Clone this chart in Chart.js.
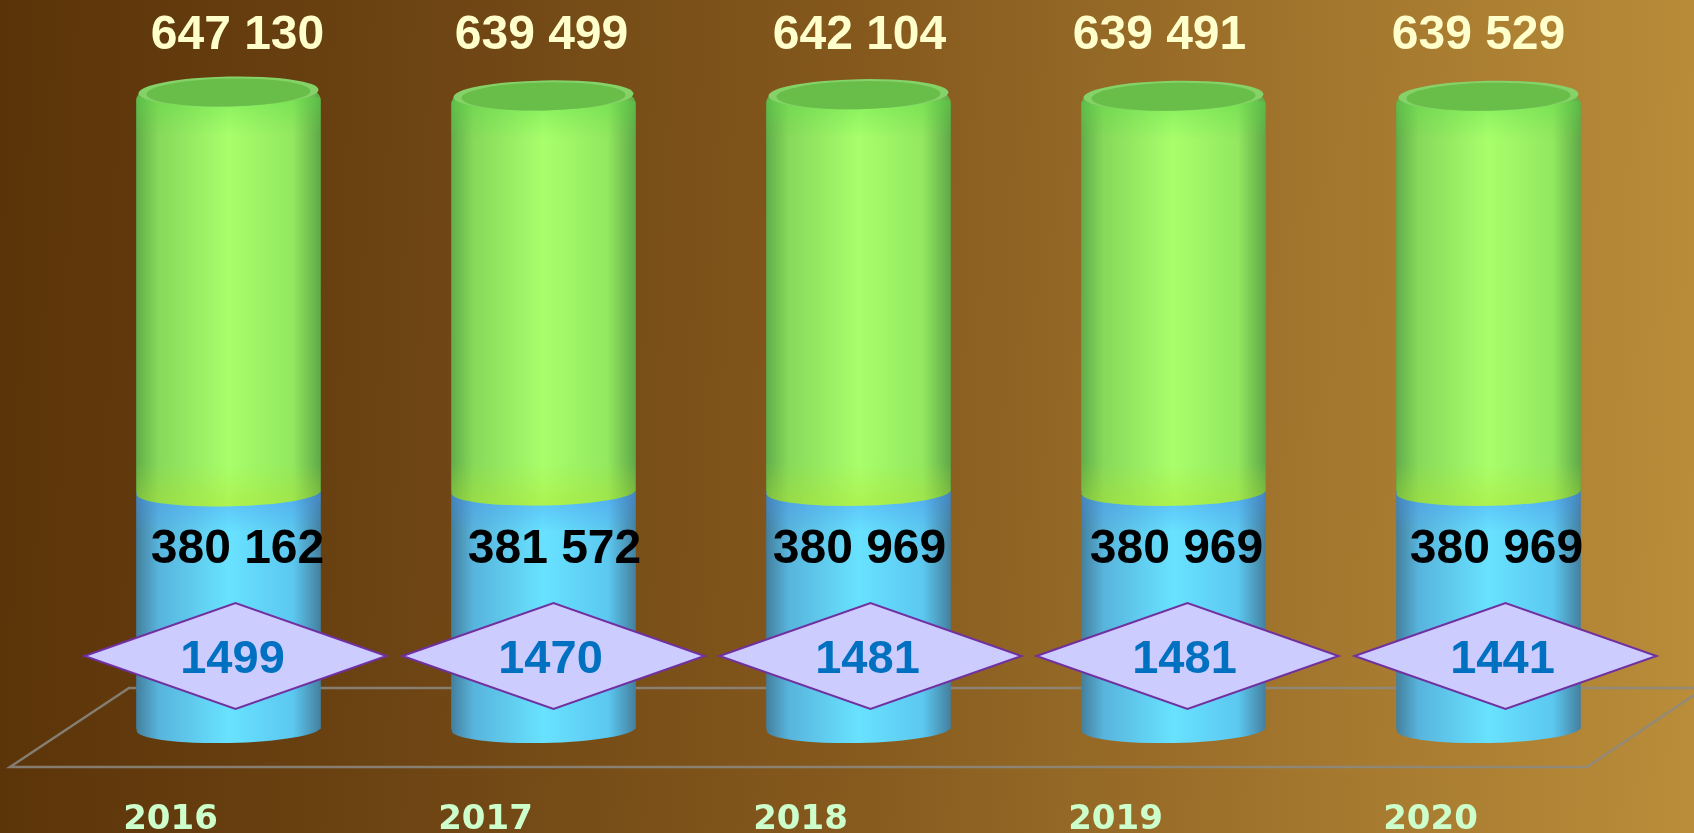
<!DOCTYPE html>
<html>
<head>
<meta charset="utf-8">
<title>Chart</title>
<script src="https://cdn.jsdelivr.net/npm/chart.js@4"></script>
<style>
  html, body { margin: 0; padding: 0; width: 1694px; height: 833px; overflow: hidden; }
  body { background: linear-gradient(92deg, #5a3308 0%, #6d4413 25%, #85591d 50%, #a0742c 75%, #ba8d3a 100%); }
  canvas { display: block; }
</style>
</head>
<body>
<canvas id="chart" width="1694" height="833"></canvas>
<script>
const years = ['2016', '2017', '2018', '2019', '2020'];
const lowerValues = [380162, 381572, 380969, 380969, 380969];
const upperValues = [647130, 639499, 642104, 639491, 639529];
const diamondValues = [1499, 1470, 1481, 1481, 1441];

// label shifts from the bar centre, the source slide has them placed by hand
const upperShift = [9, -2, 1, -14, -10];
const lowerShift = [9, 11, 1, 3, 8];
const diamondShift = [7, 10, 12, 14, 17];

const blueStops = ['#44809f', '#58b4dc', '#68e2ff', '#5cc8f0', '#44809f'];
const greenStops = ['#62ad4a', '#86d95a', '#a8ff6c', '#92e85f', '#5fa848'];
const TILT = -0.02;

function sideGradient(chart, i, stops) {
  const cx = chart.scales.x ? chart.scales.x.getPixelForValue(i) : NaN;
  if (!isFinite(cx)) return stops[2];
  const g = chart.ctx.createLinearGradient(cx - 92, 0, cx + 92, 0);
  const at = [0, 0.12, 0.5, 0.85, 1];
  stops.forEach((c, n) => g.addColorStop(at[n], c));
  return g;
}

function fmt(v) {
  return String(v).replace(/(\d)(\d{3})$/, '$1 $2');
}

function ellipse(ctx, x, y, rx, ry, fill) {
  ctx.beginPath();
  ctx.ellipse(x, y, rx, ry, TILT, 0, Math.PI * 2);
  ctx.fillStyle = fill;
  ctx.fill();
}

function verticalFade(ctx, y0, y1, c0, c1) {
  const g = ctx.createLinearGradient(0, y0, 0, y1);
  g.addColorStop(0, c0);
  g.addColorStop(1, c1);
  return g;
}

const floorPlugin = {
  id: 'floor',
  beforeDatasetsDraw(chart) {
    const ctx = chart.ctx;
    ctx.save();
    ctx.strokeStyle = 'rgba(140,138,130,0.85)';
    ctx.lineWidth = 2.5;
    ctx.beginPath();
    ctx.moveTo(1694, 695);
    ctx.lineTo(1587, 767);
    ctx.lineTo(10, 767);
    ctx.lineTo(129, 688);
    ctx.lineTo(1694, 688);
    ctx.stroke();
    ctx.restore();
  }
};

const cylinderPlugin = {
  id: 'cylinder',
  afterDatasetsDraw(chart) {
    const ctx = chart.ctx;
    const lower = chart.getDatasetMeta(0).data;
    const upper = chart.getDatasetMeta(1).data;
    ctx.save();
    years.forEach((y, i) => {
      const x = lower[i].x;
      const rx = lower[i].width / 2;
      const joint = lower[i].y;
      const lid = upper[i].y;

      ellipse(ctx, x, lower[i].base, rx, 14, sideGradient(chart, i, blueStops));

      // darker blue just under the green part
      ctx.fillStyle = verticalFade(ctx, joint, joint + 40, 'rgba(70,140,235,0.45)', 'rgba(70,140,235,0)');
      ctx.fillRect(x - rx, joint, rx * 2, 40);

      ellipse(ctx, x, joint, rx, 14, sideGradient(chart, i, greenStops));

      // lime band at the foot of the green part
      ctx.save();
      ctx.beginPath();
      ctx.ellipse(x, joint, rx, 14, TILT, 0, Math.PI);
      ctx.lineTo(x - rx, joint - 30);
      ctx.lineTo(x + rx, joint - 30);
      ctx.closePath();
      ctx.fillStyle = verticalFade(ctx, joint - 30, joint + 14, 'rgba(180,225,40,0)', 'rgba(180,225,40,0.42)');
      ctx.fill();
      ctx.restore();

      // greener band under the lid
      ctx.fillStyle = verticalFade(ctx, lid + 8, lid + 46, 'rgba(85,215,70,0.4)', 'rgba(85,215,70,0)');
      ctx.fillRect(x - rx, lid + 8, rx * 2, 38);

      ellipse(ctx, x, lid + 2, rx - 2, 15, '#84d268');
      ellipse(ctx, x, lid + 3, rx - 10, 14, '#69bd49');
    });

    ctx.textAlign = 'center';
    ctx.textBaseline = 'middle';
    years.forEach((y, i) => {
      const x = lower[i].x;
      ctx.font = 'bold 48px "Liberation Sans"';
      ctx.fillStyle = '#ffffcc';
      ctx.fillText(fmt(upperValues[i]), x + upperShift[i], 36);
      ctx.fillStyle = '#000000';
      ctx.fillText(fmt(lowerValues[i]), x + lowerShift[i], 550);

      const dx = x + diamondShift[i];
      ctx.beginPath();
      ctx.moveTo(dx - 151, 656);
      ctx.lineTo(dx, 603);
      ctx.lineTo(dx + 151, 656);
      ctx.lineTo(dx, 709);
      ctx.closePath();
      ctx.fillStyle = '#ccccff';
      ctx.fill();
      ctx.strokeStyle = '#7030a0';
      ctx.lineWidth = 2;
      ctx.stroke();

      ctx.font = 'bold 47px "Liberation Sans"';
      ctx.fillStyle = '#0070c0';
      ctx.fillText(String(diamondValues[i]), dx - 3, 660);
    });
    ctx.restore();
  }
};

new Chart(document.getElementById('chart'), {
  type: 'bar',
  data: {
    labels: years,
    datasets: [
      {
        label: 'lower',
        data: lowerValues,
        backgroundColor: c => sideGradient(c.chart, c.dataIndex, blueStops),
        borderWidth: 0,
        barThickness: 184
      },
      {
        label: 'upper',
        data: upperValues,
        backgroundColor: c => sideGradient(c.chart, c.dataIndex, greenStops),
        borderWidth: 0,
        borderRadius: { topLeft: 12, topRight: 12, bottomLeft: 0, bottomRight: 0 },
        barThickness: 184
      }
    ]
  },
  options: {
    responsive: false,
    animation: false,
    layout: { padding: { left: 71, right: 48, top: 48, bottom: 0 } },
    plugins: { legend: { display: false }, tooltip: { enabled: false } },
    scales: {
      x: {
        stacked: true,
        grid: { display: false },
        border: { display: false },
        afterFit: s => { s.height = 104; },
        ticks: {
          color: '#ccffcc',
          font: { family: '"DejaVu Sans"', weight: 'bold', size: 34 },
          labelOffset: -58,
          padding: 63,
          maxRotation: 0
        }
      },
      y: {
        stacked: true,
        display: false,
        min: 0,
        max: 1094000
      }
    }
  },
  plugins: [floorPlugin, cylinderPlugin]
});
</script>
</body>
</html>
